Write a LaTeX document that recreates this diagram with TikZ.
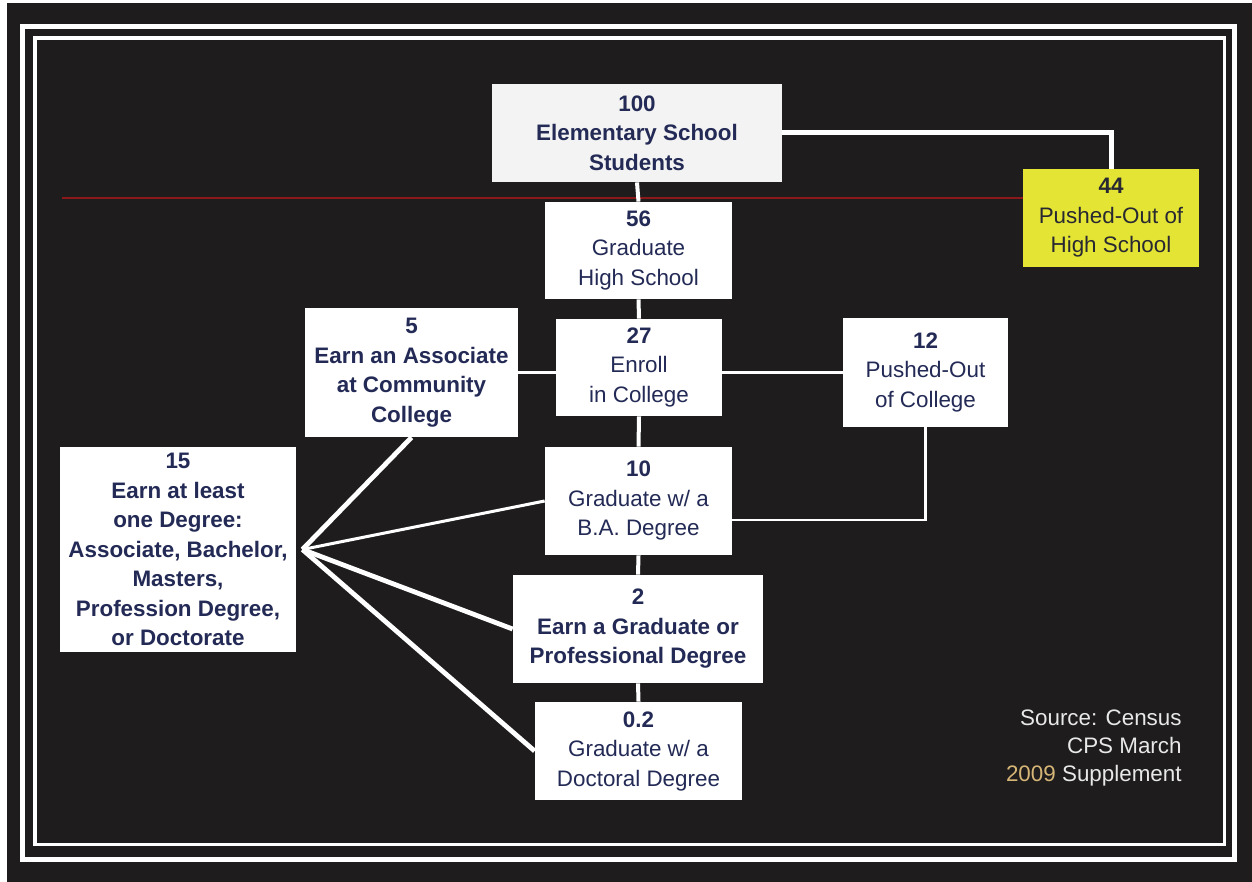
\documentclass[tikz,border=0pt]{standalone}
\usepackage{fontspec}
\setmainfont{Liberation Sans}
\definecolor{bg}{RGB}{30,28,28}
\definecolor{navy}{RGB}{35,42,85}
\definecolor{ybox}{RGB}{228,228,52}
\definecolor{ytext}{RGB}{40,40,50}
\definecolor{redline}{RGB}{140,25,25}
\definecolor{gold}{RGB}{214,182,118}
\definecolor{srcgrey}{RGB}{232,232,232}
\definecolor{topfill}{RGB}{243,243,243}
\begin{document}
\begin{tikzpicture}[x=0.5pt,y=-0.5pt,
  box/.style={fill=white, inner sep=0pt, align=center, text=navy,
    font=\fontsize{11.2}{14.75}\selectfont},
  bbox/.style={box, font=\fontsize{11.2}{14.75}\selectfont\bfseries},
  conn/.style={draw=white, line width=2pt},
  thinconn/.style={draw=white, line width=1.25pt},
  fanline/.style={draw=white, line width=2.4pt},
  frameline/.style={draw=white}]
\fill[white] (0,0) rectangle (1252,882);
\fill[bg] (7,3) rectangle (1252,882);
\useasboundingbox (0,0) rectangle (1252,882);
% frames
\draw[frameline, line width=2.5pt] (22.5,26.5) rectangle (1234.5,859);
\draw[frameline, line width=1.75pt] (35,38) rectangle (1224.5,844.5);
% boxes
\node[bbox, fill=topfill, minimum width=145pt, minimum height=49pt] (top) at (637,133) {100\\Elementary School\\Students};
\node[box, fill=ybox, text=ytext, minimum width=88pt, minimum height=49pt] (y44) at (1111,218) {\textbf{44}\\Pushed-Out of\\High School};
\node[box, minimum width=93.5pt, minimum height=48.5pt] (g56) at (638.5,250.5) {\textbf{56}\\Graduate\\High School};
\node[box, minimum width=83pt, minimum height=48.5pt] (e27) at (639,367.5) {\textbf{27}\\Enroll\\in College};
\node[bbox, minimum width=106.5pt, minimum height=64.5pt] (a5) at (411.5,372.5) {5\\Earn an Associate\\at Community\\College};
\node[box, minimum width=82.5pt, minimum height=54.5pt] (p12) at (925.5,372.5) {\textbf{12}\\Pushed-Out\\of College};
\node[bbox, minimum width=118pt, minimum height=102.5pt] (d15) at (178,549.5) {15\\Earn at least\\one Degree:\\Associate, Bachelor,\\Masters,\\Profession Degree,\\or Doctorate};
\node[box, minimum width=93.5pt, minimum height=54pt] (b10) at (638.5,501) {\textbf{10}\\Graduate w/ a\\B.A. Degree};
\node[bbox, minimum width=125pt, minimum height=54pt] (g2) at (638,629) {2\\Earn a Graduate or\\Professional Degree};
\node[box, minimum width=103.5pt, minimum height=49pt] (d02) at (638.5,751) {\textbf{0.2}\\Graduate w/ a\\Doctoral Degree};
% source
\node[align=right, text=srcgrey, inner sep=0pt, anchor=north east,
  font=\fontsize{11.2}{14.1}\selectfont] (src) at (1182,709)
  {Source: Census\\CPS March\\\textcolor{gold}{2009} Supplement};
% red line
\coordinate (rl) at (62,198);
\draw[redline, line width=1.1pt] (rl) -- (rl -| y44.west);
% connectors
\draw[conn, line width=2.5pt] (top.east) -| (y44.north);
\draw[conn] (top.south) -- (g56.north);
\draw[conn] (g56.south) -- (e27.north);
\draw[conn] (e27.south) -- (b10.north);
\draw[conn] (b10.south) -- (g2.north);
\draw[conn] (g2.south) -- (d02.north);
\draw[thinconn] (a5.east) -- (a5.east -| e27.west);
\draw[thinconn] (p12.west) -- (p12.west -| e27.east);
\draw[thinconn] (p12.south) |- (b10.east |- 0,520);
\coordinate (hub) at ([xshift=3pt]d15.east);
\draw[fanline] (hub) -- (a5.south);
\draw[fanline, line width=1.5pt] (hub) -- (b10.west);
\draw[fanline] (hub) -- (g2.west);
\draw[fanline] (hub) -- (d02.west);
\end{tikzpicture}
\end{document}
